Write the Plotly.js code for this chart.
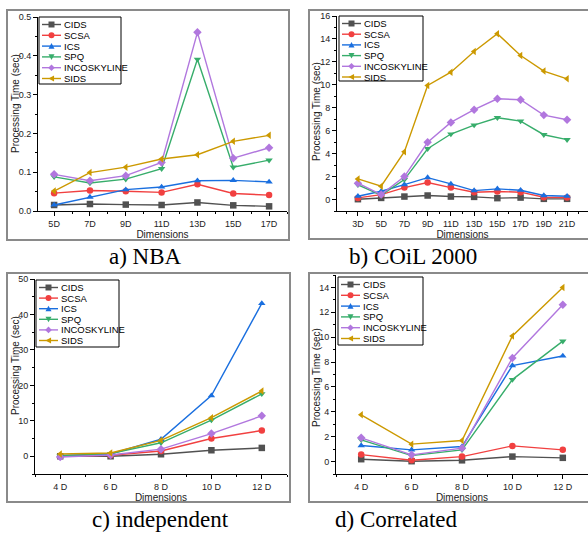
<!DOCTYPE html>
<html>
<head>
<meta charset="utf-8">
<script src="https://cdn.plot.ly/plotly-3.0.1.min.js"></script>
<style>html,body{margin:0;padding:0;background:#fff;}#chart{width:588px;height:534px;}</style>
</head>
<body>
<div id="chart"></div>
<script>
// ---- series names and styles ----
const seriesNames = ['CIDS', 'SCSA', 'ICS', 'SPQ', 'INCOSKYLINE', 'SIDS'];
const seriesColors = ['#515151', '#F14040', '#1A6FDF', '#37AD6B', '#B177DE', '#CC9900'];
const seriesSymbols = ['square', 'circle', 'triangle-up', 'triangle-down', 'diamond', 'triangle-left'];

// ---- a) NBA ----
const nbaDims = ['5D', '7D', '9D', '11D', '13D', '15D', '17D'];
const nbaCIDS = [0.0155, 0.018, 0.0165, 0.0155, 0.022, 0.0146, 0.012];
const nbaSCSA = [0.046, 0.053, 0.051, 0.048, 0.069, 0.045, 0.041];
const nbaICS = [0.0155, 0.036, 0.055, 0.062, 0.078, 0.079, 0.075];
const nbaSPQ = [0.088, 0.072, 0.082, 0.109, 0.391, 0.113, 0.131];
const nbaINCO = [0.0945, 0.078, 0.091, 0.125, 0.4605, 0.136, 0.163];
const nbaSIDS = [0.0515, 0.099, 0.113, 0.134, 0.145, 0.1795, 0.195];

// ---- b) COiL 2000 ----
const coilDims = ['3D', '5D', '7D', '9D', '11D', '13D', '15D', '17D', '19D', '21D'];
const coilCIDS = [0.03, 0.14, 0.26, 0.35, 0.26, 0.23, 0.12, 0.17, 0.06, 0.06];
const coilSCSA = [0.14, 0.43, 1.04, 1.48, 1.04, 0.64, 0.70, 0.64, 0.20, 0.17];
const coilICS = [0.29, 0.72, 1.30, 1.91, 1.36, 0.78, 0.93, 0.81, 0.35, 0.29];
const coilSPQ = [1.28, 0.38, 1.74, 4.43, 5.71, 6.49, 7.13, 6.84, 5.65, 5.22];
const coilINCO = [1.42, 0.43, 2.00, 4.99, 6.72, 7.83, 8.78, 8.70, 7.36, 6.96];
const coilSIDS = [1.80, 1.16, 4.17, 9.94, 11.1, 12.9, 14.46, 12.55, 11.2, 10.52];

// ---- c) independent ----
const indDims = ['4 D', '6 D', '8 D', '10 D', '12 D'];
const indCIDS = [0.0, 0.0, 0.57, 1.7, 2.36];
const indSCSA = [0.0, 0.28, 1.5, 5.0, 7.26];
const indICS = [0.2, 0.66, 4.8, 17.1, 43.1];
const indSPQ = [0.1, 0.75, 3.8, 10.2, 17.6];
const indINCO = [-0.2, 0.38, 2.0, 6.4, 11.4];
const indSIDS = [0.66, 0.94, 4.5, 10.9, 18.4];

// ---- d) Correlated ----
const corDims = ['4 D', '6 D', '8 D', '10 D', '12 D'];
const corCIDS = [0.19, 0.03, 0.10, 0.40, 0.30];
const corSCSA = [0.56, 0.10, 0.40, 1.26, 0.94];
const corICS = [1.29, 0.94, 1.21, 7.72, 8.49];
const corSPQ = [1.75, 0.48, 0.94, 6.59, 9.68];
const corINCO = [1.91, 0.54, 1.08, 8.33, 12.6];
const corSIDS = [3.76, 1.40, 1.69, 10.1, 14.0];

// ---- captions and axis titles ----
const captions = ['a) NBA', 'b) COiL 2000', 'c) independent', 'd) Correlated'];
const xTitle = 'Dimensions';
const yTitle = 'Processing Time (sec)';

const panels = [
  {dims: nbaDims, series: [nbaCIDS, nbaSCSA, nbaICS, nbaSPQ, nbaINCO, nbaSIDS]},
  {dims: coilDims, series: [coilCIDS, coilSCSA, coilICS, coilSPQ, coilINCO, coilSIDS]},
  {dims: indDims, series: [indCIDS, indSCSA, indICS, indSPQ, indINCO, indSIDS]},
  {dims: corDims, series: [corCIDS, corSCSA, corICS, corSPQ, corINCO, corSIDS]}
];

const W = 588, H = 534;
const px = v => v / W;
const py = v => 1 - v / H;

const traces = [];
panels.forEach((p, pi) => {
  const suffix = pi === 0 ? '' : String(pi + 1);
  const idx = p.dims.map((_, i) => i);
  p.series.forEach((vals, si) => {
    traces.push({
      type: 'scatter', mode: 'lines+markers',
      x: idx, y: vals, name: seriesNames[si],
      xaxis: 'x' + suffix, yaxis: 'y' + suffix,
      showlegend: false,
      line: {color: seriesColors[si], width: 1.4},
      marker: {color: seriesColors[si], symbol: seriesSymbols[si], size: 6.5}
    });
  });
});

const tickFont = {family: 'Liberation Sans, Arial, sans-serif', size: 9, color: '#222'};
const titleFont = {family: 'Liberation Sans, Arial, sans-serif', size: 10, color: '#222'};

function xAxis(dims, domain, range, anchor) {
  return {
    domain: domain, range: range, anchor: anchor, type: 'linear',
    tickmode: 'array', tickvals: dims.map((_, i) => i), ticktext: dims,
    ticks: 'outside', ticklen: 4, tickwidth: 1, tickcolor: '#000',
    minor: {tickmode: 'linear', tick0: 0, dtick: 0.5, ticks: 'outside', ticklen: 2, tickcolor: '#000'},
    showline: true, linecolor: '#000', linewidth: 1, mirror: false,
    showgrid: false, zeroline: false, tickfont: tickFont,
    title: {text: xTitle, font: titleFont, standoff: 1}
  };
}
function yAxis(domain, range, dtick, minorDtick, fmt, anchor) {
  return {
    domain: domain, range: range, anchor: anchor,
    tickmode: 'linear', tick0: 0, dtick: dtick, tickformat: fmt,
    ticks: 'outside', ticklen: 4, tickwidth: 1, tickcolor: '#000',
    minor: {tickmode: 'linear', tick0: 0, dtick: minorDtick, ticks: 'outside', ticklen: 2, tickcolor: '#000'},
    showline: true, linecolor: '#000', linewidth: 1, mirror: false,
    showgrid: false, zeroline: false, tickfont: tickFont
  };
}

const boxStyle = {color: '#8a8a8a', width: 2};
const shapes = [
  {type: 'rect', xref: 'paper', yref: 'paper', x0: px(7), x1: px(289), y0: py(240), y1: py(10), line: boxStyle, layer: 'below'},
  {type: 'rect', xref: 'paper', yref: 'paper', x0: px(309), x1: px(592), y0: py(239), y1: py(10), line: boxStyle, layer: 'below'},
  {type: 'rect', xref: 'paper', yref: 'paper', x0: px(7), x1: px(290), y0: py(502), y1: py(273), line: boxStyle, layer: 'below'},
  {type: 'rect', xref: 'paper', yref: 'paper', x0: px(309), x1: px(592), y0: py(502), y1: py(273), line: boxStyle, layer: 'below'}
];

const capFont = {family: 'Liberation Serif, Times New Roman, serif', size: 23, color: '#000'};
const capPos = [[145, 256], [413, 256], [160, 519], [396, 519]];
const annotations = captions.map((t, i) => ({
  text: t, xref: 'paper', yref: 'paper', x: px(capPos[i][0]), y: py(capPos[i][1]),
  xanchor: 'center', yanchor: 'middle', showarrow: false, font: capFont
}));

// y-axis titles placed like the Origin originals
const yTitlePos = [[15, 104], [316, 112], [15, 366], [316, 378]];
yTitlePos.forEach(([x, y]) => {
  annotations.push({text: yTitle, xref: 'paper', yref: 'paper', x: px(x), y: py(y),
    xanchor: 'center', yanchor: 'middle', textangle: -90, showarrow: false, font: titleFont, borderpad: 0});
});

// ---- compact legends (Origin style), drawn as layout shapes + text ----
function markerPath(sym, cx, cy, r) {
  const P = (x, y) => px(x) + ',' + py(y);
  if (sym === 'triangle-up') return 'M' + P(cx - r, cy + r * 0.85) + ' L' + P(cx + r, cy + r * 0.85) + ' L' + P(cx, cy - r) + ' Z';
  if (sym === 'triangle-down') return 'M' + P(cx - r, cy - r * 0.85) + ' L' + P(cx + r, cy - r * 0.85) + ' L' + P(cx, cy + r) + ' Z';
  if (sym === 'triangle-left') return 'M' + P(cx + r * 0.85, cy - r) + ' L' + P(cx + r * 0.85, cy + r) + ' L' + P(cx - r, cy) + ' Z';
  if (sym === 'diamond') return 'M' + P(cx, cy - r * 1.1) + ' L' + P(cx + r * 1.1, cy) + ' L' + P(cx, cy + r * 1.1) + ' L' + P(cx - r * 1.1, cy) + ' Z';
  return null;
}
function addLegend(bx, by, bw, bh, step) {
  shapes.push({type: 'rect', xref: 'paper', yref: 'paper', x0: px(bx), x1: px(bx + bw), y0: py(by + bh), y1: py(by),
    line: {color: '#000', width: 1}, fillcolor: '#fff'});
  seriesNames.forEach((name, i) => {
    const cy = by + 7.5 + i * step;
    const col = seriesColors[i];
    shapes.push({type: 'line', xref: 'paper', yref: 'paper', x0: px(bx + 3), x1: px(bx + 22), y0: py(cy), y1: py(cy),
      line: {color: col, width: 1.4}});
    const cx = bx + 12.5, r = 3;
    const sym = seriesSymbols[i];
    if (sym === 'square') {
      shapes.push({type: 'rect', xref: 'paper', yref: 'paper', x0: px(cx - r), x1: px(cx + r), y0: py(cy + r), y1: py(cy - r),
        line: {color: col, width: 0}, fillcolor: col});
    } else if (sym === 'circle') {
      shapes.push({type: 'circle', xref: 'paper', yref: 'paper', x0: px(cx - r), x1: px(cx + r), y0: py(cy + r), y1: py(cy - r),
        line: {color: col, width: 0}, fillcolor: col});
    } else {
      shapes.push({type: 'path', xref: 'paper', yref: 'paper', path: markerPath(sym, cx, cy, r),
        line: {color: col, width: 0}, fillcolor: col});
    }
    annotations.push({text: name, xref: 'paper', yref: 'paper', x: px(bx + 24), y: py(cy),
      xanchor: 'left', yanchor: 'middle', showarrow: false,
      font: {family: 'Liberation Sans, Arial, sans-serif', size: 9.5, color: '#000'}, borderpad: 0});
  });
}
addLegend(39, 17, 82, 67, 10.8);
addLegend(339, 16, 84, 65, 10.7);
addLegend(36, 280, 83, 67, 10.6);
addLegend(338, 277, 85, 68, 10.8);

const layout = {
  width: W, height: H, margin: {l: 0, r: 0, t: 0, b: 0},
  paper_bgcolor: '#fff', plot_bgcolor: 'rgba(0,0,0,0)',
  showlegend: false,
  xaxis: xAxis(nbaDims, [px(38), px(287)], [-0.45, 6.5], 'y'),
  yaxis: yAxis([py(211), py(17)], [0, 0.5], 0.1, 0.05, '.1f', 'x'),
  xaxis2: xAxis(coilDims, [px(337), 1], [-0.9, 9.9], 'y2'),
  yaxis2: yAxis([py(211), py(16)], [-1, 16], 2, 1, 'd', 'x2'),
  xaxis3: xAxis(indDims, [px(35), px(287)], [-0.5, 4.5], 'y3'),
  yaxis3: yAxis([py(474), py(279)], [-5, 50], 10, 5, 'd', 'x3'),
  xaxis4: xAxis(corDims, [px(336), 1], [-0.5, 4.5], 'y4'),
  yaxis4: yAxis([py(474), py(275)], [-1, 15], 2, 1, 'd', 'x4'),
  shapes: shapes,
  annotations: annotations
};

Plotly.newPlot('chart', traces, layout, {displayModeBar: false, staticPlot: true});
</script>
</body>
</html>
